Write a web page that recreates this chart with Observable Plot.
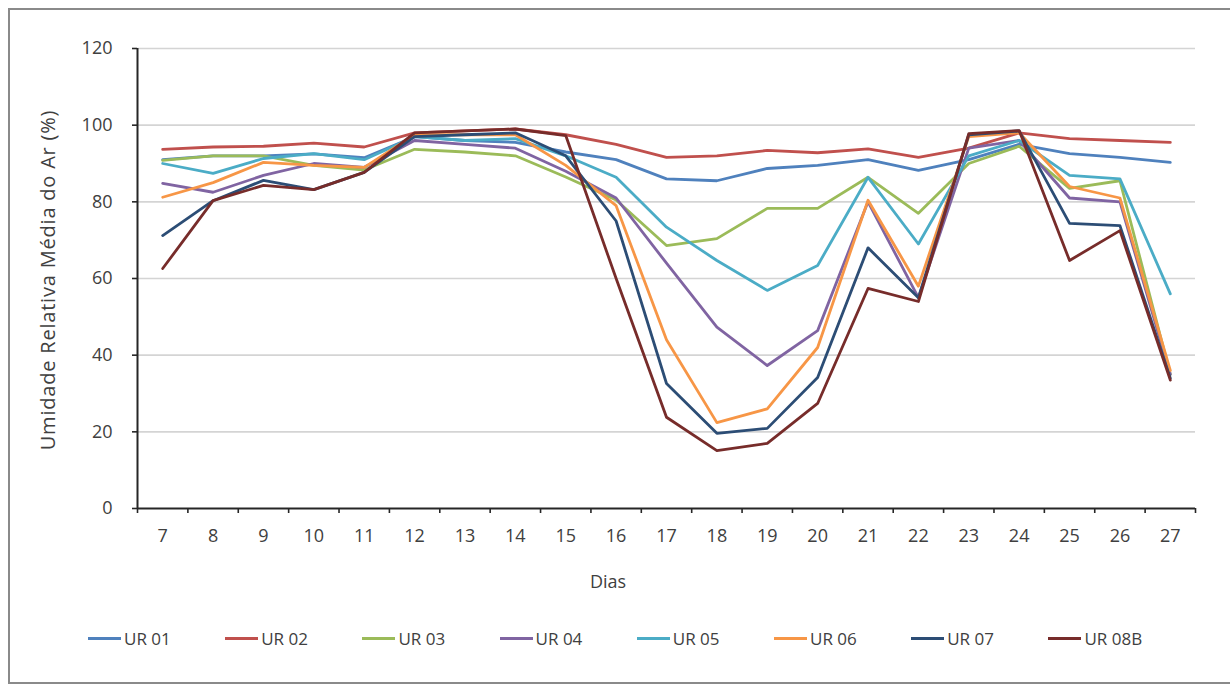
<!DOCTYPE html>
<html>
<head>
<meta charset="utf-8">
<script src="https://cdn.jsdelivr.net/npm/d3@7"></script>
<script src="https://cdn.jsdelivr.net/npm/@observablehq/plot@0.6"></script>
<style>
  html, body { margin: 0; padding: 0; background: #fff; }
  body { width: 1230px; height: 686px; position: relative; overflow: hidden; font-family: "Open Sans", Lato, sans-serif; color: #404040; }
  #frame { position: absolute; left: 8px; top: 8px; width: 1240px; height: 676px; border: 2.5px solid #8a8a8a; box-sizing: border-box; }
  #chart { position: absolute; left: 0; top: 0; }
  #ylab { position: absolute; left: 47px; top: 280px; transform: translate(-50%, -50%) rotate(-90deg); font-size: 20px; letter-spacing: 0.8px; white-space: nowrap; }
  #xlab { position: absolute; left: 608px; top: 581px; transform: translate(-50%, -50%); font-size: 18px; }
  #legend { position: absolute; left: 0; top: 625px; height: 26px; width: 1230px; }
  .item { position: absolute; top: 0; display: flex; align-items: center; font-size: 17px; height: 26px; }
  .swatch { width: 33px; height: 3px; margin-right: 3px; }
</style>
</head>
<body>
<div id="frame"></div>
<div id="chart"></div>
<div id="ylab">Umidade Relativa Média do Ar (%)</div>
<div id="xlab">Dias</div>
<div id="legend"></div>
<script>
const days = [7, 8, 9, 10, 11, 12, 13, 14, 15, 16, 17, 18, 19, 20, 21, 22, 23, 24, 25, 26, 27];
const seriesNames = ["UR 01", "UR 02", "UR 03", "UR 04", "UR 05", "UR 06", "UR 07", "UR 08B"];
const seriesColors = ["#4F81BD", "#C0504D", "#9BBB59", "#8064A2", "#4BACC6", "#F79646", "#2C4D75", "#772C2A"];
const yTicks = [0, 20, 40, 60, 80, 100, 120];

const ur01 = [91, 92, 92, 92.5, 91.5, 97, 96, 95.5, 93, 91, 86, 85.5, 88.7, 89.5, 91, 88.2, 91, 95, 92.6, 91.6, 90.3];
const ur02 = [93.7, 94.3, 94.5, 95.3, 94.3, 98, 98.5, 99, 97.5, 95, 91.6, 92, 93.4, 92.8, 93.8, 91.6, 94, 98, 96.5, 96, 95.5];
const ur03 = [90.8, 92, 92, 89.5, 88.3, 93.7, 93, 92, 86.5, 80.5, 68.6, 70.4, 78.3, 78.3, 86.4, 77, 90, 94.5, 83.5, 85.5, 35];
const ur04 = [84.8, 82.5, 86.9, 90, 89, 96, 95, 94, 88, 81, 64, 47.3, 37.3, 46.4, 80, 55, 94, 96, 81, 80, 35];
const ur05 = [90, 87.4, 91.3, 92.6, 91, 97, 96, 96.5, 92, 86.4, 73.4, 64.7, 56.9, 63.4, 86.4, 69, 92, 96, 86.9, 86, 56];
const ur06 = [81.2, 85, 90.3, 89.5, 89, 97.5, 97.5, 97.5, 89.5, 79, 44, 22.4, 26, 42, 80.4, 58, 97, 98, 84, 81, 36];
const ur07 = [71.2, 80.3, 85.6, 83.2, 87.7, 97, 97.5, 98, 92, 75, 32.6, 19.6, 20.9, 34.2, 68, 55, 97.5, 98.5, 74.4, 73.8, 34];
const ur08b = [62.6, 80.3, 84.3, 83.2, 87.7, 98, 98.5, 99, 97.3, 60, 23.8, 15.1, 17, 27.4, 57.4, 54, 97.8, 98.6, 64.7, 72.5, 33.5];

const seriesValues = [ur01, ur02, ur03, ur04, ur05, ur06, ur07, ur08b];
const rows = [];
seriesNames.forEach((name, i) => {
  days.forEach((d, j) => rows.push({serie: name, dia: d, ur: seriesValues[i][j]}));
});
const boundaries = [days[0] - 0.5, ...days.map(d => d + 0.5)];

const plot = Plot.plot({
  width: 1230,
  height: 610,
  marginLeft: 137,
  marginRight: 35,
  marginTop: 48,
  marginBottom: 102,
  style: {fontFamily: "'Open Sans', Lato, sans-serif", color: "#404040", background: "transparent", overflow: "visible"},
  x: {type: "linear", domain: [days[0] - 0.5, days[days.length - 1] + 0.5]},
  y: {domain: [0, 120]},
  color: {domain: seriesNames, range: seriesColors},
  marks: [
    Plot.ruleY(yTicks.filter(t => t > 0), {stroke: "#d4d4d4", strokeWidth: 1.6}),
    Plot.lineY(rows, {x: "dia", y: "ur", z: "serie", stroke: "serie", strokeWidth: 2.8, curve: "linear"}),
    Plot.axisY({ticks: yTicks, tickSize: 5, tickPadding: 20, fontSize: 18, tickFormat: d => d, label: null, stroke: "#262626", strokeWidth: 1.6}),
    Plot.axisX({ticks: days, tickSize: 0, tickPadding: 21, fontSize: 18, tickFormat: d => d, label: null}),
    Plot.axisX({ticks: boundaries, tickSize: 5, tickFormat: () => "", label: null, stroke: "#262626", strokeWidth: 1.6}),
    Plot.ruleY([0], {stroke: "#262626", strokeWidth: 2}),
    Plot.ruleX([days[0] - 0.5], {stroke: "#262626", strokeWidth: 2})
  ]
});
document.getElementById("chart").appendChild(plot);

const legend = document.getElementById("legend");
seriesNames.forEach((name, i) => {
  const item = document.createElement("div");
  item.className = "item";
  item.style.left = (88 + i * 137.2) + "px";
  const sw = document.createElement("div");
  sw.className = "swatch";
  sw.style.background = seriesColors[i];
  const tx = document.createElement("span");
  tx.textContent = name;
  item.appendChild(sw);
  item.appendChild(tx);
  legend.appendChild(item);
});
</script>
</body>
</html>
